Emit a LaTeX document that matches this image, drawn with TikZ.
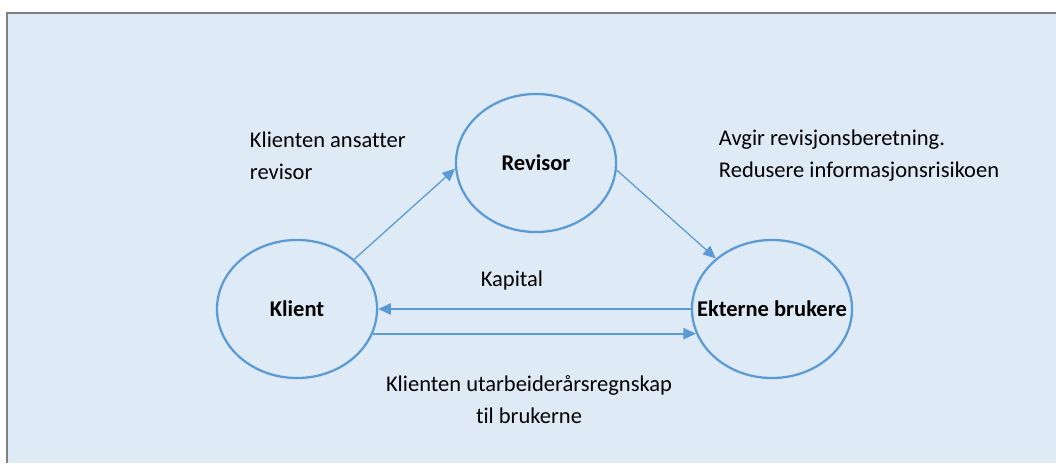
\documentclass[tikz,border=0pt]{standalone}
\usepackage{fontspec}
\setmainfont{Carlito}[Ligatures=NoCommon]
\usepackage{tikz}
\usetikzlibrary{shapes.geometric,arrows.meta}
\usepackage{xcolor}
\definecolor{bgblue}{HTML}{DEEAF6}
\definecolor{lineblue}{HTML}{5B9BD5}

\begin{document}
\begin{tikzpicture}[x=0.025cm, y=-0.025cm,
    every node/.style={font=\fontsize{16}{22.8}\selectfont},
    actor/.style={draw=lineblue, line width=1.6pt, ellipse, minimum width=4cm, minimum height=3.45cm, inner sep=0pt,
        label={[font=\fontsize{16}{22.8}\selectfont\bfseries]center:#1}},
    flow/.style={draw=lineblue, line width=0.9pt, -{Triangle[length=9pt, width=8pt]}}]
                    \useasboundingbox (0,0) rectangle (1056,463);
                    \fill[bgblue] (7,13) rectangle (1056,463);
                    \draw[gray, line width=0.8pt] (7,463) -- (7,13) -- (1056,13);
                    \node[actor=Revisor] (Revisor) at (536,163) {};
                    \node[actor=Klient] (Klient) at (297,309) {};
                    \node[actor={Ekterne brukere}] (Ekterne) at (772,309) {};
                    \draw[flow] (Klient.41) -- (Revisor.184);
                    \draw[flow] (Revisor.-5) -- (Ekterne.138);
                    \draw[flow, line width=1.2pt] (Ekterne.west) -- (Klient.east);
                    \draw[flow, line width=1.2pt] (Klient.-18) -- (Ekterne.198);
                    \node[anchor=west, align=left] (ansatter) at (245,156) {Klienten ansatter\\revisor};
                    \node[anchor=west, align=left] (avgir) at (714,156) {Avgir revisjonsberetning.\\Redusere informasjonsrisikoen};
                    \node (kapital) at (512,280) {Kapital};
                    \node[align=center] (regnskap) at (529,400) {Klienten utarbeiderårsregnskap\\til brukerne};
                \end{tikzpicture}
\end{document}
